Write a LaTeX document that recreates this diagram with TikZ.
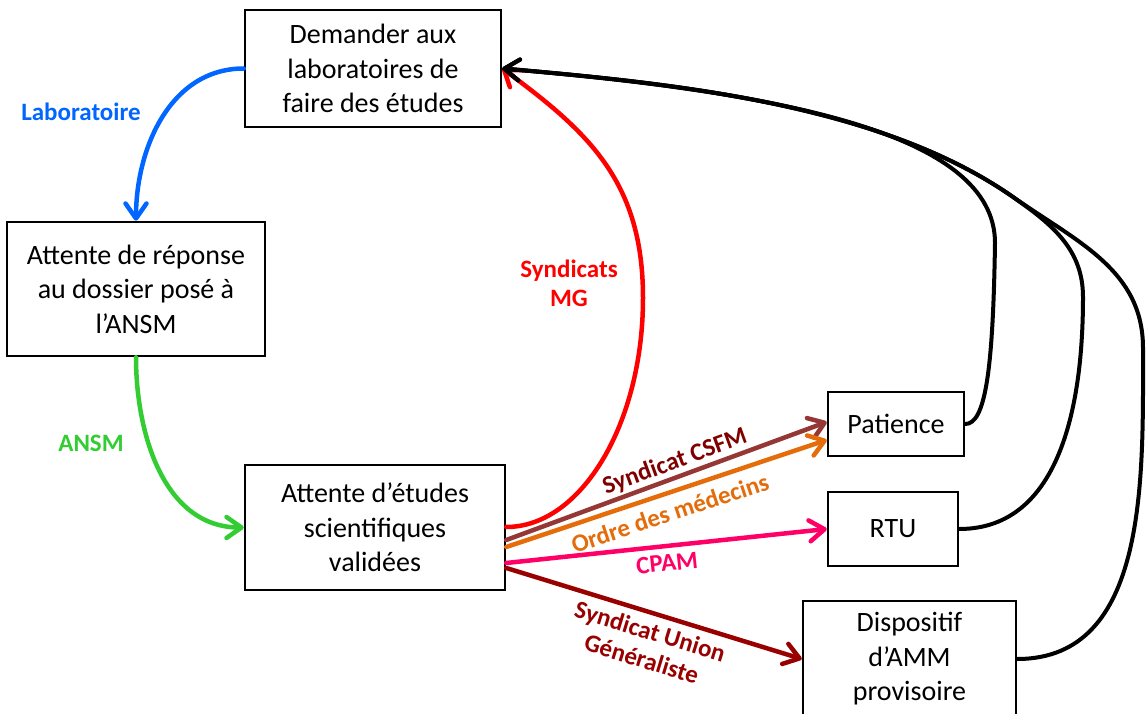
\documentclass[tikz,border=0pt]{standalone}
\usepackage{fontspec}
\setmainfont{Carlito}
\usetikzlibrary{arrows.meta}
\definecolor{cblue}{RGB}{0,102,255}
\definecolor{cgreen}{RGB}{51,204,51}
\definecolor{cred}{RGB}{255,0,0}
\definecolor{cbrown}{RGB}{149,55,53}
\definecolor{cbrowntxt}{RGB}{128,0,0}
\definecolor{corange}{RGB}{228,108,10}
\definecolor{cpink}{RGB}{255,0,102}
\definecolor{cdarkred}{RGB}{153,0,0}
\begin{document}
\begin{tikzpicture}[x=1pt,y=1pt,
  box/.style={draw=black, line width=2.5pt, inner sep=0pt, align=center,
    font=\fontsize{28}{34.5}\selectfont},
  lab/.style={font=\fontsize{25}{29}\selectfont\bfseries, align=center, inner sep=0pt},
  conn/.style={line width=4.5pt, line cap=round,
    -{Straight Barb[length=15pt,width=21pt,round]}},
  ret/.style={line width=4pt, line cap=round,
    -{Straight Barb[length=15pt,width=21pt,round]}}]
\useasboundingbox (0,0) rectangle (1146,713);

% boxes
\node[box, minimum width=256pt, minimum height=117pt] (dem) at (373,644.5)
  {Demander aux\\laboratoires de\\faire des études};
\node[box, minimum width=258pt, minimum height=134pt] (att) at (136,424)
  {Attente de réponse\\au dossier posé à\\l’ANSM};
\node[box, minimum width=260pt, minimum height=125pt] (etu) at (375,185.5)
  {Attente d’études\\scientifiques\\validées};
\node[box, minimum width=136pt, minimum height=64pt] (pat) at (896,289) {Patience};
\node[box, minimum width=130pt, minimum height=74pt] (rtu) at (893,184) {RTU};
\node[box, minimum width=213pt, minimum height=116pt] (amm) at (909.5,54)
  {Dispositif\\d’AMM\\provisoire};

% main cycle
\draw[conn, cblue] (dem.west) to[out=180,in=90] (att.north);
\draw[conn, cgreen] (att.south) to[out=-90,in=180] (etu.west);
\coordinate (rmax) at (643,415);
\draw[conn, cred] ([yshift=0.5pt]etu.east) .. controls (581,186) and (643,289) .. (rmax)
  .. controls (643,530) and (590,580) .. (dem.east);

% actors towards the outcomes
\draw[conn, cbrown] ([yshift=-12.5pt]etu.east) -- ([yshift=2pt]pat.west);
\draw[conn, corange] ([yshift=-19.5pt]etu.east) -- ([yshift=-16pt]pat.west);
\draw[conn, cpink] ([yshift=-35.5pt]etu.east) -- (rtu.west);
\draw[conn, cdarkred] ([yshift=-40.5pt]etu.east) -- (amm.west);

% returns to the first step
\coordinate (w1a) at (995,470);
\coordinate (w2) at (1083,416);
\coordinate (w3) at (1143,365);
\coordinate (jn) at (1013,516);
\draw[ret] (pat.east) .. controls (985,289) and (993,340) .. (w1a)
  .. controls (995,580) and (782,620.5) .. (dem.east);
\draw[ret] (rtu.east) to[out=0,in=-90] (w2) to[out=90,in=-35] (jn)
  to[out=145,in=-5,looseness=0.8] (dem.east);
\draw[ret] (amm.east) to[out=0,in=-90] (w3) to[out=90,in=-35] (jn)
  to[out=145,in=-5,looseness=0.8] (dem.east);

% labels
\node[lab, text=cblue] (lLab) at (81,601) {Laboratoire};
\node[lab, text=cgreen] (lAnsm) at (91,270) {ANSM};
\node[lab, text=cred] (lMg) at (569,429.5) {Syndicats\\MG};
\node[lab, text=cbrowntxt, rotate=20] (lCsfm) at (675,251) {Syndicat CSFM};
\node[lab, text=corange, rotate=18.3] (lOrdre) at (670,200) {Ordre des médecins};
\node[lab, text=cpink, rotate=6] (lCpam) at (667,150) {CPAM};
\node[lab, text=cdarkred, rotate=-17] (lUnion) at (646,68) {Syndicat Union\\Généraliste};
\end{tikzpicture}
\end{document}
